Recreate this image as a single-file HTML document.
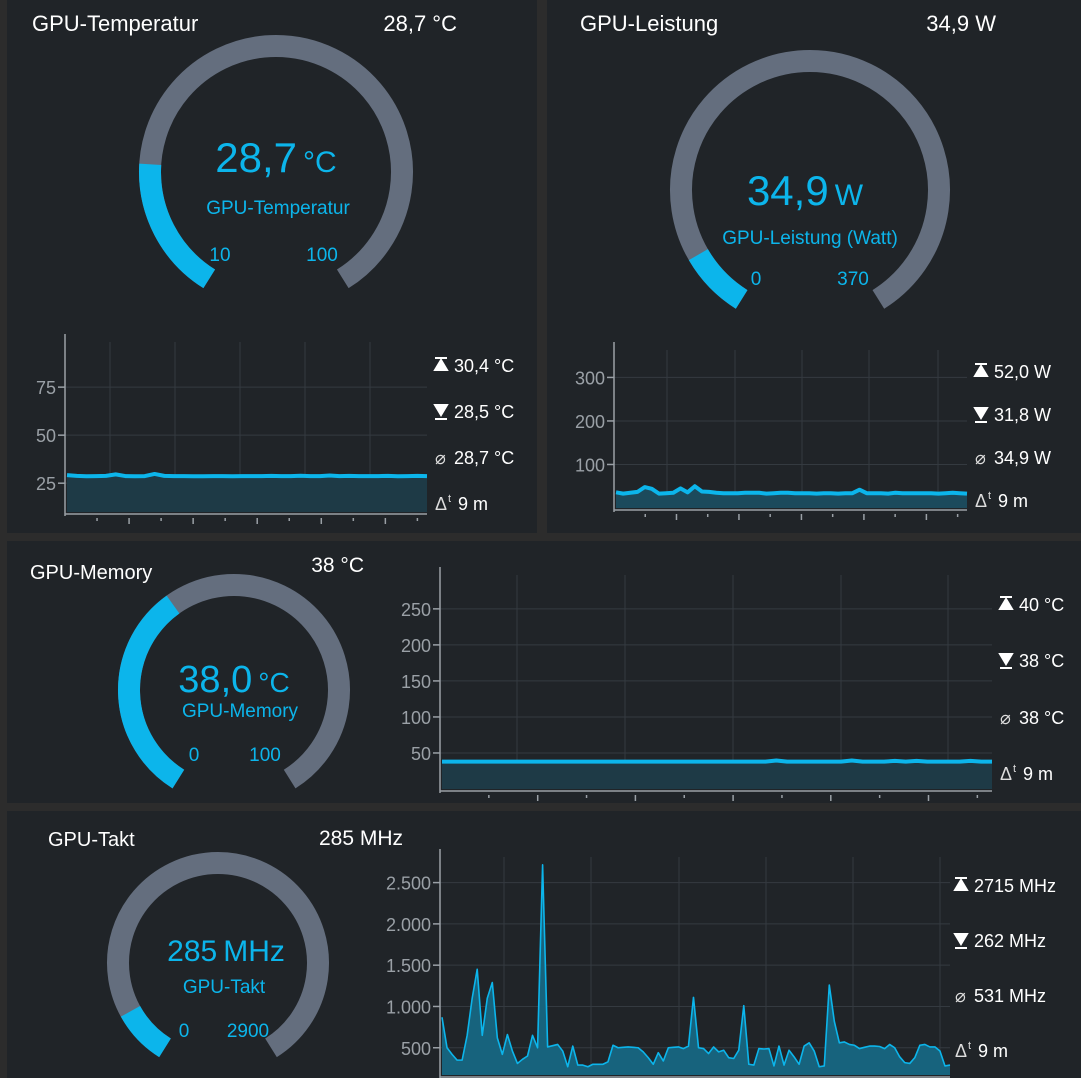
<!DOCTYPE html>
<html><head><meta charset="utf-8"><style>
html,body{margin:0;padding:0;background:#2c2c2c;}
svg{display:block;font-family:"Liberation Sans","DejaVu Sans",sans-serif;}
</style></head><body>
<svg id="s" width="1081" height="1078" viewBox="0 0 1081 1078">
<rect x="0" y="0" width="1081" height="1078" fill="#2c2c2c"/>
<rect x="7" y="0" width="530" height="533" fill="#202428"/>
<rect x="547" y="0" width="534" height="533" fill="#202428"/>
<rect x="7" y="541" width="1074" height="262" fill="#202428"/>
<rect x="7" y="811" width="1074" height="267" fill="#202428"/>
<g id="content"></g>
</svg>
<script>
// ---- data ----
const tempValues = [29.2,28.8,28.6,28.7,28.8,29.6,28.7,28.6,28.7,29.8,28.8,28.7,28.7,28.6,28.6,28.7,28.7,28.6,28.7,28.7,28.7,28.8,28.7,28.7,28.9,28.7,28.7,29.0,28.7,28.8,28.7,28.7,28.7,28.8,28.6,28.7,28.8,28.7];
const powerValues = [36,33,35,37,48,44,33,34,35,45,36,50,38,37,35,34,34,34,35,35,35,33,34,35,35,34,34,34,33,34,34,33,34,34,42,34,34,34,33,35,34,34,34,34,34,33,34,35,34,33];
const memValues = [38,38,38,38,38,38,38,38,38,38,38,38,38,38,38,38,38,38,38,38,38,38,38,38,38,38,38,38,38,38,38,39.5,38,38,38,38,38,38,39.5,38,38,38,39,38,39,38,38,38,38,39,38,38];
const clockValues = [870,500,420,350,350,650,1100,1450,650,1100,1290,620,420,660,460,310,360,400,650,500,2715,510,525,540,460,270,520,290,290,270,300,300,300,330,530,500,505,510,505,500,450,380,300,440,340,500,505,510,490,520,1110,500,490,430,510,450,470,380,370,470,1010,300,290,490,485,490,280,520,290,470,390,300,520,560,460,270,280,1260,820,560,570,540,530,490,505,520,520,515,490,540,500,390,320,310,380,530,540,510,510,460,280,290];
const tempTicks = [25,50,75];
const powerTicks = [100,200,300];
const memTicks = [50,100,150,200,250];
const clockTicks = [500,1000,1500,2000,2500];
const clockTickLabels = ["500","1.000","1.500","2.000","2.500"];
const tempStats = ["30,4 °C","28,5 °C","28,7 °C","9 m"];
const powerStats = ["52,0 W","31,8 W","34,9 W","9 m"];
const memStats = ["40 °C","38 °C","38 °C","9 m"];
const clockStats = ["2715 MHz","262 MHz","531 MHz","9 m"];

const NS="http://www.w3.org/2000/svg";
const root=document.getElementById('content');
function el(tag,attrs,parent){const e=document.createElementNS(NS,tag);for(const k in attrs)e.setAttribute(k,attrs[k]);(parent||root).appendChild(e);return e;}
function txt(x,y,s,size,fill,anchor,name){const t=el('text',{x:x,y:y,'font-size':size,fill:fill,'text-anchor':anchor||'start'});t.textContent=s;


return t;}
const BLUE="#0cb5eb";
const A0=122, SWEEP=296;
function arc(cx,cy,r,a0,a1){const p=a=>[cx+r*Math.cos(a*Math.PI/180),cy+r*Math.sin(a*Math.PI/180)];const s=p(a0),e=p(a1);const large=(a1-a0)>180?1:0;return `M${s[0]},${s[1]} A${r},${r} 0 ${large} 1 ${e[0]},${e[1]}`;}
function gauge(cx,cy,r,w,frac,name){
 const g=el('g',{});
 
 
 const bg=el('path',{d:arc(cx,cy,r,A0,A0+SWEEP),stroke:"#646e7e",'stroke-width':w,fill:'none'},g);
 
 
 const fg=el('path',{d:arc(cx,cy,r,A0,A0+SWEEP*frac),stroke:BLUE,'stroke-width':w,fill:'none'},g);
 
 
}
function chart(o){
 const {x0,x1,yTop,yBot,vmin,vmax,vals,ticks,labels,name,lw,fillC,fillO,vgrid,statX,statYs,stats}=o;
 const ys=v=>yBot-(v-vmin)/(vmax-vmin)*(yBot-yTop);
 const xs=i=>x0+2+i*(x1-x0-2)/(vals.length-1);
 const g=el('g',{});
 
 
 ticks.forEach((t,i)=>{const y=ys(t);
  el('line',{x1:x0,x2:x1,y1:y,y2:y,stroke:'#343a40','stroke-width':1},g);
  el('line',{x1:x0-7,x2:x0,y1:y,y2:y,stroke:'#9aa0a6','stroke-width':1.5},g);
  const l=txt(x0-9,y+7,labels?labels[i]:String(t),18,'#9aa0a6','end',name+'-y-tick-label');g.appendChild(l);});
 vgrid.forEach(x=>{el('line',{x1:x,x2:x,y1:yTop,y2:yBot,stroke:'#343a40','stroke-width':1},g);});
 let d='';vals.forEach((v,i)=>{d+=(i?'L':'M')+xs(i)+','+ys(v);});
 const area=el('path',{d:d+`L${xs(vals.length-1)},${yBot}L${xs(0)},${yBot}Z`,fill:fillC,'fill-opacity':fillO},g);
 
 
 const line=el('path',{d:d,stroke:BLUE,'stroke-width':lw,fill:'none','stroke-linejoin':'round'},g);
 
 
 el('line',{x1:x0,x2:x0,y1:yTop-8,y2:yBot+4,stroke:'#9aa0a6','stroke-width':1.5},g);
 el('line',{x1:x0,x2:x1,y1:yBot+2,y2:yBot+2,stroke:'#9aa0a6','stroke-width':1.5},g);
 for(let i=1;i<12;i++){const x=x0+i*(x1-x0)/11.3;el('line',{x1:x,x2:x,y1:yBot+6,y2:yBot+(i%2?9:12),stroke:'#9aa0a6','stroke-width':1.5},g);}
 stats.forEach((s,i)=>{const y=statYs[i];
  if(i==0){el('path',{d:`M${statX},${y-14}h12M${statX+6},${y-12}l-6,10h12z`,stroke:'#fff',fill:'#fff','stroke-width':2},g);}
  else if(i==1){el('path',{d:`M${statX},${y+1}h12M${statX},${y-13}h12l-6,10z`,stroke:'#fff',fill:'#fff','stroke-width':2},g);}
  else { const ic=txt(statX,y,i==2?'⌀':'Δ',18,'#ddd','start',name+'-stat-icon');g.appendChild(ic);
   if(i==3){const sup=txt(statX+13,y-8,'t',11,'#ddd','start',name+'-stat-icon-sup');g.appendChild(sup);} }
  const t=txt(statX+(i==3?23:19),y,s,18,'#fff','start',name+'-stat-'+['max','min','avg','duration'][i]);g.appendChild(t);});
}
function bigVal(cx,y,num,unit,numSize,unitSize,name){
 const t=el('text',{x:cx,y:y,'text-anchor':'middle',fill:BLUE});
 
 
 const a=el('tspan',{'font-size':numSize},t);a.textContent=num;
 const b=el('tspan',{'font-size':unitSize,dx:6},t);b.textContent=unit;
}

// Panel 1
txt(32,31,'GPU-Temperatur',22,'#fff','start','temperature-title');
txt(457,31,'28,7 °C',22,'#fff','end','temperature-value');
gauge(276,172,126,22,(28.7-10)/90,'temperature-gauge');
bigVal(276,172,'28,7','°C',42,30,'temperature-gauge-value');
txt(278,214,'GPU-Temperatur',19,BLUE,'middle','temperature-gauge-label');
txt(220,261,'10',19,BLUE,'middle','temperature-gauge-min');
txt(322,261,'100',19,BLUE,'middle','temperature-gauge-max');
chart({x0:65,x1:427,yTop:342,yBot:512,vmin:10,vmax:98.5,vals:tempValues,ticks:tempTicks,name:'temperature-chart',lw:4,fillC:'#1e3a46',fillO:1,vgrid:[110,175,240,305,370],statX:435,statYs:[372,418,464,510],stats:tempStats});

// Panel 2
txt(580,31,'GPU-Leistung',22,'#fff','start','power-title');
txt(996,31,'34,9 W',22,'#fff','end','power-value');
gauge(810,190,129,22,34.9/370,'power-gauge');
bigVal(805,205,'34,9','W',42,30,'power-gauge-value');
txt(810,244,'GPU-Leistung (Watt)',19,BLUE,'middle','power-gauge-label');
txt(756,285,'0',19,BLUE,'middle','power-gauge-min');
txt(853,285,'370',19,BLUE,'middle','power-gauge-max');
chart({x0:614,x1:967,yTop:350,yBot:508,vmin:0,vmax:363,vals:powerValues,ticks:powerTicks,name:'power-chart',lw:4,fillC:'#1c4a5c',fillO:1,vgrid:[667,735,802,869,938],statX:975,statYs:[378,421,464,507],stats:powerStats});

// Panel 3
txt(30,579,'GPU-Memory',20,'#fff','start','memory-title');
txt(364,572,'38 °C',21,'#fff','end','memory-value');
gauge(234,690,105,22,0.38,'memory-gauge');
bigVal(234,692,'38,0','°C',38,28,'memory-gauge-value');
txt(240,717,'GPU-Memory',19,BLUE,'middle','memory-gauge-label');
txt(194,761,'0',19,BLUE,'middle','memory-gauge-min');
txt(265,761,'100',19,BLUE,'middle','memory-gauge-max');
chart({x0:440,x1:992,yTop:575,yBot:789,vmin:0,vmax:297,vals:memValues,ticks:memTicks,name:'memory-chart',lw:4,fillC:'#1e3a46',fillO:1,vgrid:[517,625,733,841,948],statX:1000,statYs:[611,667,724,780],stats:memStats});

// Panel 4
txt(48,846,'GPU-Takt',20,'#fff','start','clock-title');
txt(403,845,'285 MHz',21,'#fff','end','clock-value');
gauge(218,963,100,22,285/2900,'clock-gauge');
bigVal(226,961,'285','MHz',30,30,'clock-gauge-value');
txt(224,993,'GPU-Takt',19,BLUE,'middle','clock-gauge-label');
txt(184,1037,'0',19,BLUE,'middle','clock-gauge-min');
txt(248,1037,'2900',19,BLUE,'middle','clock-gauge-max');
chart({x0:440,x1:950,yTop:857,yBot:1075,vmin:170,vmax:2810,vals:clockValues,ticks:clockTicks,labels:clockTickLabels,name:'clock-chart',lw:1.6,fillC:'#17637d',fillO:1,vgrid:[504,591,679,766,853,940],statX:955,statYs:[892,947,1002,1057],stats:clockStats});
</script>
</body></html>
